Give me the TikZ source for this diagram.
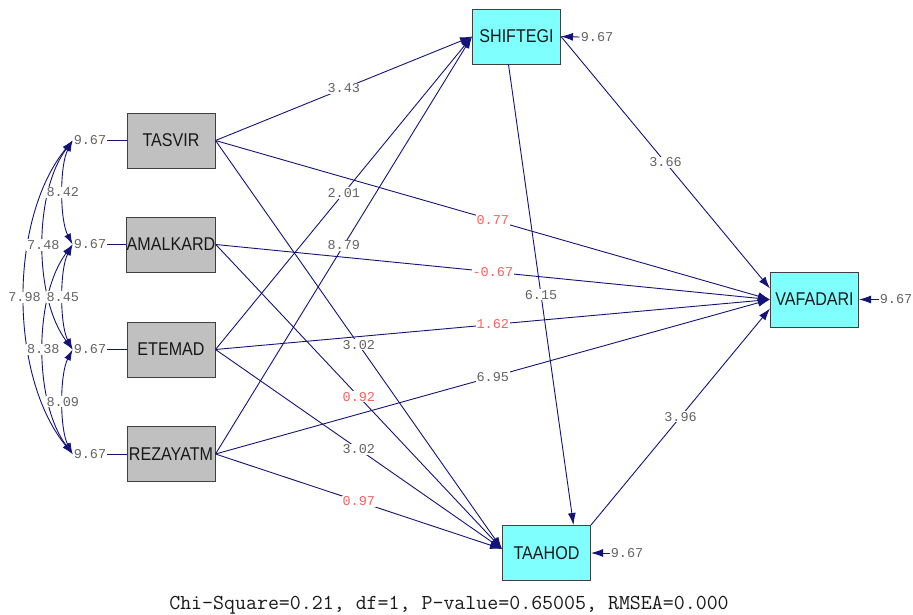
\documentclass[tikz,border=0pt]{standalone}
\usepackage{graphicx}
\usepackage{fontspec}
\setmainfont{Liberation Sans}
\newfontfamily\monof{Liberation Mono}
\usetikzlibrary{arrows.meta}
\definecolor{lnavy}{RGB}{20,20,120}
\definecolor{boxgray}{RGB}{192,192,192}
\definecolor{boxcyan}{RGB}{128,255,255}
\definecolor{lblgray}{RGB}{100,100,100}
\definecolor{lblred}{RGB}{255,96,96}
\definecolor{txtdark}{RGB}{25,25,25}
\newcommand{\bxt}[1]{\scalebox{0.87}[1]{#1}}
\begin{document}
\begin{tikzpicture}[x=1pt,y=-1pt,
  exo/.style={draw=black!75, line width=1pt, fill=boxgray, minimum width=88pt, minimum height=55pt, inner sep=0pt, text=txtdark, font=\fontsize{18.5}{18.5}\selectfont},
  endo/.style={exo, fill=boxcyan},
  arr/.style={draw=lnavy, line width=0.9pt, -{Latex[length=12pt,width=8pt]}},
  cov/.style={draw=lnavy, line width=0.9pt, {Latex[length=11pt,width=7pt]}-{Latex[length=11pt,width=7pt]}},
  plainln/.style={draw=lnavy, line width=0.9pt},
  lbl/.style={fill=white, inner sep=1pt, font=\monof\fontsize{13.5}{13.5}\selectfont, text=lblgray},
  rlbl/.style={lbl, text=lblred},
  vlbl/.style={inner sep=1pt, font=\monof\fontsize{13.5}{13.5}\selectfont, text=lblgray},
]
\useasboundingbox (0,0) rectangle (913,614);
\fill[white] (0,0) rectangle (913,614);

% boxes
\node[exo] (TASVIR) at (171,140.5) {\bxt{TASVIR}};
\node[exo] (AMALKARD) at (171,244.5) {\bxt{AMALKARD}};
\node[exo] (ETEMAD) at (171,349.5) {\bxt{ETEMAD}};
\node[exo] (REZAYATM) at (171,454) {\bxt{REZAYATM}};
\node[endo] (SHIFTEGI) at (516.5,36.5) {\bxt{SHIFTEGI}};
\node[endo] (VAFADARI) at (814.5,299.5) {\bxt{VAFADARI}};
\node[endo] (TAAHOD) at (546.5,553) {\bxt{TAAHOD}};

% variances of exogenous
\node[vlbl] (v1) at (90,140.5) {9.67};
\node[vlbl] (v2) at (90,244.5) {9.67};
\node[vlbl] (v3) at (90,349.5) {9.67};
\node[vlbl] (v4) at (90,454) {9.67};
\draw[plainln] (v1.east) -- (TASVIR.west);
\draw[plainln] (v2.east) -- (AMALKARD.west);
\draw[plainln] (v3.east) -- (ETEMAD.west);
\draw[plainln] (v4.east) -- (REZAYATM.west);

% covariances
\draw[cov] (v1.west) .. controls +(-64,78) and +(-64,-78) .. node[lbl] (c14) {7.98} (v4.west);
\draw[cov] (v1.west) .. controls +(-39,52) and +(-39,-52) .. node[lbl] (c13) {7.48} (v3.west);
\draw[cov] (v2.west) .. controls +(-39,52) and +(-39,-52) .. node[lbl] (c24) {8.38} (v4.west);
\draw[cov] (v1.west) .. controls +(-13,25) and +(-13,-25) .. node[lbl] (c12) {8.42} (v2.west);
\draw[cov] (v2.west) .. controls +(-13,25) and +(-13,-25) .. node[lbl] (c23) {8.45} (v3.west);
\draw[cov] (v3.west) .. controls +(-13,25) and +(-13,-25) .. node[lbl] (c34) {8.09} (v4.west);

% structural paths
\draw[arr] (TASVIR.east) -- node[lbl]{3.43} (SHIFTEGI.west);
\draw[arr] (ETEMAD.east) -- node[lbl]{2.01} (SHIFTEGI.west);
\draw[arr] (REZAYATM.east) -- node[lbl]{8.79} (SHIFTEGI.west);
\draw[arr] (TASVIR.east) -- node[rlbl]{0.77} (VAFADARI.west);
\draw[arr] (AMALKARD.east) -- node[rlbl]{-0.67} (VAFADARI.west);
\draw[arr] (ETEMAD.east) -- node[rlbl]{1.62} (VAFADARI.west);
\draw[arr] (REZAYATM.east) -- node[lbl]{6.95} (VAFADARI.west);
\draw[arr] (TASVIR.east) -- node[lbl]{3.02} ([yshift=4pt]TAAHOD.west);
\draw[arr] (AMALKARD.east) -- node[rlbl]{0.92} ([yshift=4pt]TAAHOD.west);
\draw[arr] (ETEMAD.east) -- node[lbl]{3.02} ([yshift=4pt]TAAHOD.west);
\draw[arr] (REZAYATM.east) -- node[rlbl]{0.97} ([yshift=4pt]TAAHOD.west);
\draw[arr] (SHIFTEGI.east) -- node[lbl]{3.66} ([yshift=11pt]VAFADARI.west);
\draw[arr] ([xshift=-8pt]SHIFTEGI.south) -- node[lbl]{6.15} ([xshift=27pt]TAAHOD.north);
\draw[arr] (TAAHOD.north east) -- node[lbl]{3.96} ([yshift=-9pt]VAFADARI.west);

% error variances of endogenous
\node[vlbl] (es) at (597,37) {9.67};
\node[vlbl] (ev) at (896,299.5) {9.67};
\node[vlbl] (et) at (627,553) {9.67};
\draw[arr] (es.west) -- (SHIFTEGI.east);
\draw[arr] (ev.west) -- (VAFADARI.east);
\draw[arr] (et.west) -- (TAAHOD.east);

% fit statistics
\node[inner sep=0pt, text=txtdark, font=\ttfamily\fontsize{21.3}{21.3}\selectfont] (fit) at (449,605) {Chi-Square=0.21, df=1, P-value=0.65005, RMSEA=0.000};
\end{tikzpicture}
\end{document}
